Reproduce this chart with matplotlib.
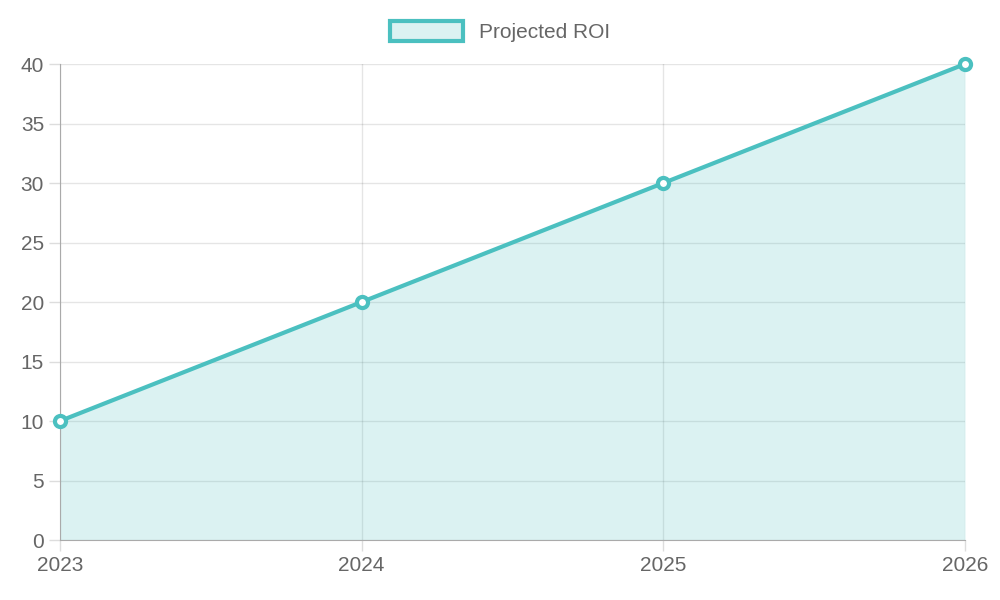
import matplotlib
matplotlib.use("Agg")
import matplotlib.pyplot as plt
from matplotlib.patches import Patch

years = ["2023", "2024", "2025", "2026"]
roi = [10, 20, 30, 40]

plt.rcParams['font.family'] = ['Liberation Sans', 'DejaVu Sans']
teal = "#4BC0C0"

fig = plt.figure(figsize=(10, 6), dpi=100)
ax = fig.add_axes([0.06, 0.1, 0.905, 0.7933])
x = list(range(len(years)))
ax.fill_between(x, roi, 0, color=teal, alpha=0.2, linewidth=0)
ax.plot(x, roi, color=teal, linewidth=3, marker="o", markersize=8,
        markerfacecolor="#ffffff", markeredgecolor=teal, markeredgewidth=3,
        clip_on=False, zorder=5)

ax.set_xlim(0, 3)
ax.set_ylim(0, 40)
ax.set_yticks(range(0, 41, 5))
ax.set_xticks(x)
ax.set_xticklabels(years)
ax.grid(True, color="#000000", alpha=0.1, linewidth=1)
ax.set_axisbelow(True)
for s in ["top", "right"]:
    ax.spines[s].set_visible(False)
for s in ["left", "bottom"]:
    ax.spines[s].set_color("#aaaaaa")
ax.tick_params(colors="#666666", labelsize=15, length=8, width=1)
ax.tick_params(axis="both", color="#dddddd")

handle = Patch(facecolor=(75/255, 192/255, 192/255, 0.2), edgecolor=teal, linewidth=3)
fig.legend([handle], ["Projected ROI"], loc="center", bbox_to_anchor=(0.5, 0.947),
           frameon=False, fontsize=15, labelcolor="#666666",
           handlelength=3.5, handleheight=1.1)

fig.savefig("out.png", dpi=100)
